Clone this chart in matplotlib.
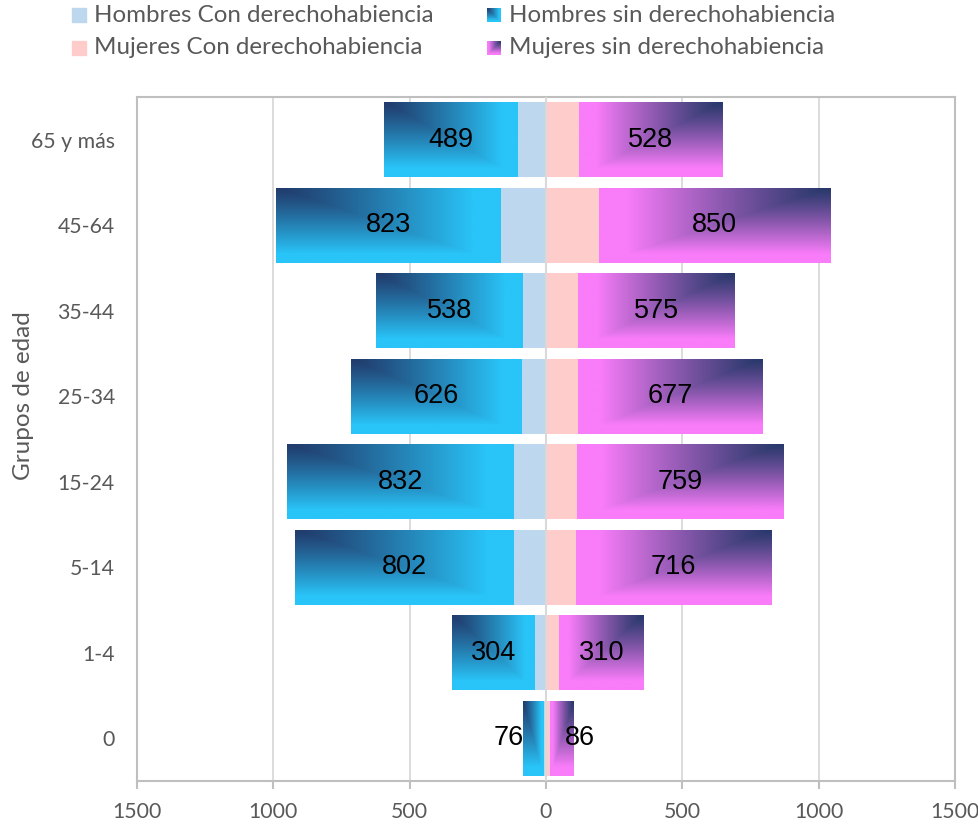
import numpy as np
import matplotlib
matplotlib.use("Agg")
import matplotlib.pyplot as plt
from matplotlib.colors import to_rgb
from matplotlib.patches import Rectangle
from matplotlib.ticker import FuncFormatter

# datos (de abajo hacia arriba)
grupos = ["0", "1-4", "5-14", "15-24", "25-34", "35-44", "45-64", "65 y más"]
hombres_con = [9, 42, 118, 117, 90, 85, 167, 105]
hombres_sin = [76, 304, 802, 832, 626, 538, 823, 489]
mujeres_con = [15, 48, 110, 114, 117, 117, 194, 120]
mujeres_sin = [86, 310, 716, 759, 677, 575, 850, 528]
xticks = [-1500, -1000, -500, 0, 500, 1000, 1500]

series_names = ["Hombres Con derechohabiencia", "Mujeres Con derechohabiencia",
                "Hombres sin derechohabiencia", "Mujeres sin derechohabiencia"]

C_HCON = "#BDD7EE"
C_MCON = "#FFCCCC"
H_DARK, H_LIGHT = "#213a6b", "#29c4f8"
M_DARK, M_LIGHT = "#26386a", "#f97cf9"
TXT = "#595959"
FONT = "Lato"


def gradient(dark, light, flip=False, n=160):
    # degradado "desde la esquina": oscuro en la esquina exterior superior
    u = np.linspace(0, 1, n)[None, :]
    v = np.linspace(0, 1, n)[:, None]
    t = np.clip(np.maximum(u, v) / 0.88, 0, 1) ** 1.15
    d = np.array(to_rgb(dark))
    l = np.array(to_rgb(light))
    img = d + (l - d) * t[..., None]
    if flip:
        img = img[:, ::-1]
    return img


fig = plt.figure(figsize=(9.79, 8.25), dpi=100)
ax = fig.add_axes([137 / 979, 1 - 781 / 825, (955 - 137) / 979, (781 - 97) / 825])

y = np.arange(len(grupos))
h = 0.88
hc = np.array(hombres_con)
hs = np.array(hombres_sin)
mc = np.array(mujeres_con)
ms = np.array(mujeres_sin)

ax.barh(y, -hc, height=h, color=C_HCON, zorder=2)
ax.barh(y, mc, height=h, color=C_MCON, zorder=2)
bars_h = ax.barh(y, -hs, left=-hc, height=h, color=H_LIGHT, zorder=2)
bars_m = ax.barh(y, ms, left=mc, height=h, color=M_LIGHT, zorder=2)

img_h = gradient(H_DARK, H_LIGHT)
img_m = gradient(M_DARK, M_LIGHT, flip=True)
for bar in bars_h:
    x0, y0, w, hh = bar.get_x(), bar.get_y(), bar.get_width(), bar.get_height()
    im = ax.imshow(img_h, extent=(x0 + w, x0, y0, y0 + hh), origin="upper",
                   aspect="auto", interpolation="bilinear", zorder=3)
    im.set_clip_path(bar)
for bar in bars_m:
    x0, y0, w, hh = bar.get_x(), bar.get_y(), bar.get_width(), bar.get_height()
    im = ax.imshow(img_m, extent=(x0, x0 + w, y0, y0 + hh), origin="upper",
                   aspect="auto", interpolation="bilinear", zorder=3)
    im.set_clip_path(bar)

# etiquetas de datos
for i in range(len(grupos)):
    xh = -(hc[i] + hs[i] / 2)
    xm = mc[i] + ms[i] / 2
    if hs[i] < 150:
        xh -= 90
        xm += 65
    ax.text(xh, y[i], str(hs[i]), ha="center", va="center", fontsize=19.5,
            family="Liberation Sans", color="black", zorder=5)
    ax.text(xm, y[i], str(ms[i]), ha="center", va="center", fontsize=19.5,
            family="Liberation Sans", color="black", zorder=5)

ax.set_xlim(-1500, 1500)
ax.set_ylim(-0.5, len(grupos) - 0.5)
ax.set_xticks(xticks)
ax.xaxis.set_major_formatter(FuncFormatter(lambda v, p: f"{abs(int(v))}"))
ax.set_yticks(y)
ax.set_yticklabels(grupos)

for v in xticks[1:-1]:
    if v != 0:
        ax.axvline(v, color="#D9D9D9", lw=1.3, zorder=1)
ax.axvline(0, color="#D9D9D9", lw=1.5, zorder=4)

for s in ax.spines.values():
    s.set_color("#BFBFBF")
    s.set_linewidth(1.5)

ax.tick_params(axis="x", length=6, width=1.5, color="#BFBFBF", pad=9,
               labelsize=15.3, labelcolor=TXT)
ax.tick_params(axis="y", length=0, pad=16, labelsize=15.3, labelcolor=TXT)
for lab in ax.get_xticklabels() + ax.get_yticklabels():
    lab.set_family(FONT)

ax.set_ylabel("Grupos de edad", fontsize=17.5, color=TXT, family=FONT)
ax.yaxis.set_label_coords(-0.126, 0.564)

# leyenda manual
W, H = 979, 825
sq = 14
entries = [(72, 15, series_names[0], C_HCON), (72, 48, series_names[1], C_MCON),
           (487, 15, series_names[2], img_h), (487, 48, series_names[3], img_m)]
for px, py, name, col in entries:
    if isinstance(col, str):
        fig.patches.append(Rectangle((px / W, 1 - (py + sq / 2) / H), sq / W, sq / H,
                                     transform=fig.transFigure, color=col))
    else:
        lax = fig.add_axes([px / W, 1 - (py + sq / 2) / H, sq / W, sq / H])
        lax.imshow(col, aspect="auto", interpolation="bilinear")
        lax.axis("off")
    fig.text((px + sq + 8) / W, 1 - py / H, name, fontsize=17.4, color=TXT,
             family=FONT, va="center", ha="left")

fig.savefig("out.png", dpi=100)
